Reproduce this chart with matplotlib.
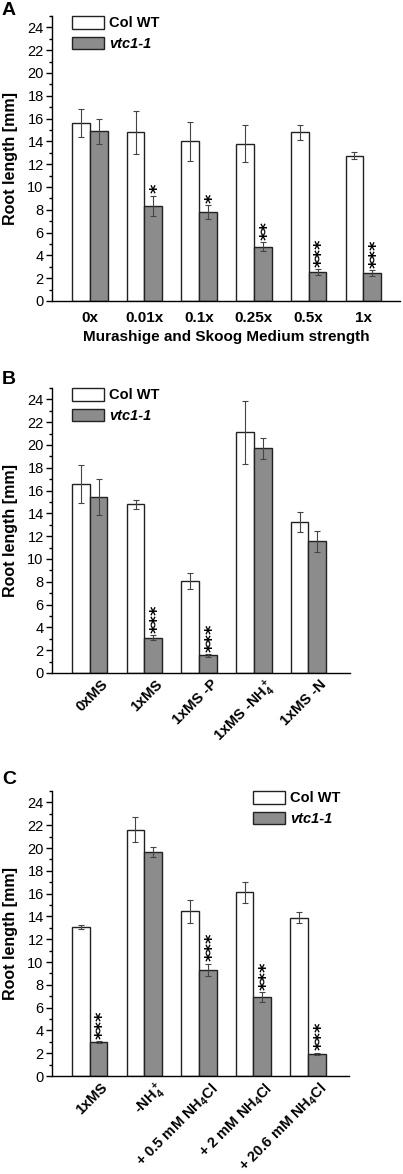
import numpy as np
import matplotlib
matplotlib.use('Agg')
import matplotlib.pyplot as plt
import matplotlib.transforms as mtransforms
from matplotlib.patches import Patch
from matplotlib.ticker import MultipleLocator

plt.rcParams['font.family'] = ['Liberation Sans', 'DejaVu Sans']
plt.rcParams['mathtext.fontset'] = 'custom'
plt.rcParams['mathtext.rm'] = 'Liberation Sans:bold'
plt.rcParams['mathtext.default'] = 'rm'

# Panel A - MS medium strength
cats_a = ['0x', '0.01x', '0.1x', '0.25x', '0.5x', '1x']
wt_a = [15.6, 14.8, 14.0, 13.8, 14.8, 12.75]
wt_a_err = [1.2, 1.9, 1.7, 1.6, 0.65, 0.33]
vtc_a = [14.9, 8.35, 7.8, 4.75, 2.55, 2.45]
vtc_a_err = [1.1, 0.9, 0.6, 0.4, 0.27, 0.25]
stars_a = ['', '*', '*', '**', '***', '***']

# Panel B - nutrient depletion
cats_b = ['0xMS', '1xMS', '1xMS -P', r'1xMS -NH$_4^+$', '1xMS -N']
wt_b = [16.6, 14.8, 8.1, 21.1, 13.25]
wt_b_err = [1.65, 0.4, 0.7, 2.8, 0.85]
vtc_b = [15.45, 3.1, 1.55, 19.7, 11.55]
vtc_b_err = [1.6, 0.2, 0.12, 0.95, 0.95]
stars_b = ['', '***', '***', '', '']

# Panel C - ammonium add-back
cats_c = ['1xMS', r'-NH$_4^+$', r'+ 0.5 mM NH$_4$Cl', r'+ 2 mM NH$_4$Cl', r'+ 20.6 mM NH$_4$Cl']
wt_c = [13.08, 21.6, 14.44, 16.12, 13.9]
wt_c_err = [0.17, 1.1, 0.98, 0.93, 0.52]
vtc_c = [2.96, 19.62, 9.3, 6.92, 1.96]
vtc_c_err = [0.07, 0.43, 0.55, 0.44, 0.08]
stars_c = ['***', '', '***', '***', '***']

W, H = 403, 1174
fig = plt.figure(figsize=(W / 100, H / 100), dpi=100)

bw = 0.325
gray = '#8c8c8c'
edge = '#222222'


def panel(top_px, right_px, xmax, cats, wt, wt_err, vtc, vtc_err, stars, rotate, legend_x):
    left_px = 52
    bot_px = top_px + 285
    ax = fig.add_axes([left_px / W, 1 - bot_px / H, (right_px - left_px) / W, 285 / H])
    x = np.arange(len(cats))
    ekw = dict(ecolor='#444444', elinewidth=0.8, capsize=2.5, capthick=0.8)
    ax.bar(x - bw / 2, wt, bw, yerr=wt_err, color='white', edgecolor=edge,
           linewidth=1.0, error_kw=ekw, label='Col WT')
    ax.bar(x + bw / 2, vtc, bw, yerr=vtc_err, color=gray, edgecolor=edge,
           linewidth=1.0, error_kw=ekw, label='vtc1-1')
    # stars are rotated text, nudge right so the glyphs sit over the bar
    star_off = mtransforms.ScaledTranslation(0.045, 0, fig.dpi_scale_trans)
    for i, s in enumerate(stars):
        if s:
            ax.text(x[i] + bw / 2, vtc[i] + vtc_err[i] + 0.2, s, rotation=90,
                    ha='center', va='bottom', fontsize=13, fontweight='bold',
                    family='DejaVu Sans', transform=ax.transData + star_off)
    ax.set_xlim(-0.69, xmax)
    ax.set_ylim(0, 25)
    ax.yaxis.set_major_locator(MultipleLocator(2))
    ax.yaxis.set_minor_locator(MultipleLocator(1))
    ax.tick_params(axis='y', which='major', length=4, width=1, labelsize=10.5, pad=2)
    ax.tick_params(axis='y', which='minor', length=2.5, width=1)
    ax.set_xticks(x)
    for sp in ['top', 'right']:
        ax.spines[sp].set_visible(False)
    for sp in ['left', 'bottom']:
        ax.spines[sp].set_linewidth(1.0)
    if rotate:
        ax.tick_params(axis='x', length=0, pad=3)
        ax.set_xticklabels(cats, rotation=45, ha='right', rotation_mode='anchor',
                           fontweight='bold', fontsize=10.5)
        off = mtransforms.ScaledTranslation(0.11, 0, fig.dpi_scale_trans)
        for lab in ax.get_xticklabels():
            lab.set_transform(lab.get_transform() + off)
    else:
        ax.tick_params(axis='x', length=0, pad=7)
        ax.set_xticklabels(cats, fontweight='bold', fontsize=11)
    ax.set_ylabel('Root length [mm]', fontsize=11.5, fontweight='bold')
    ax.yaxis.set_label_coords((18 - left_px) / (right_px - left_px), 0.5)
    handles = [Patch(facecolor='white', edgecolor=edge, linewidth=1.0),
               Patch(facecolor=gray, edgecolor=edge, linewidth=1.0)]
    leg = ax.legend(handles, ['Col WT', 'vtc1-1'], loc='upper left',
                    bbox_to_anchor=(legend_x, 1.0), frameon=False, borderpad=0,
                    borderaxespad=0, handlelength=2.2, handleheight=0.95,
                    handletextpad=0.35, labelspacing=0.45,
                    prop={'weight': 'bold', 'size': 10.5})
    leg.get_texts()[1].set_style('italic')
    return ax


axA = panel(16, 400, 5.67, cats_a, wt_a, wt_a_err, vtc_a, vtc_a_err, stars_a, False, 0.057)
axA.set_xlabel('Murashige and Skoog Medium strength', fontsize=11, fontweight='bold', labelpad=4)
axB = panel(388, 350, 4.76, cats_b, wt_b, wt_b_err, vtc_b, vtc_b_err, stars_b, True, 0.067)
axC = panel(791, 349, 4.75, cats_c, wt_c, wt_c_err, vtc_c, vtc_c_err, stars_c, True, 0.677)

for lab, ypx in [('A', 2), ('B', 371), ('C', 771)]:
    fig.text(2 / W, 1 - ypx / H, lab, fontsize=14, fontweight='bold', va='top', ha='left')

fig.savefig('out.png', dpi=100)
